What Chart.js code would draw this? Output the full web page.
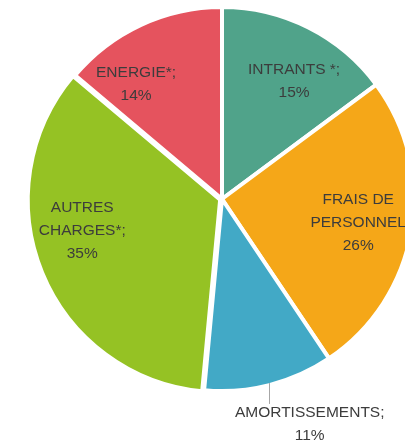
<!DOCTYPE html>
<html>
<head>
<meta charset="utf-8">
<script src="https://cdn.jsdelivr.net/npm/chart.js@4"></script>
<style>
    html, body { margin: 0; padding: 0; background: #ffffff; overflow: hidden; }
    #wrap { position: absolute; left: 0; top: 0; }
</style>
</head>
<body>
<div id="wrap"><canvas id="pieChart" width="444" height="441"></canvas></div>
<script>
// categories, clockwise from 12 o'clock
const categories = [
    ['INTRANTS *;'],
    ['FRAIS DE', 'PERSONNEL'],
    ['AMORTISSEMENTS;'],
    ['AUTRES', 'CHARGES*;'],
    ['ENERGIE*;']
];
const percentValues = [15, 26, 11, 35, 14];
const sliceColors = ['#50a38a', '#f5a718', '#42a9c6', '#95c224', '#e5535e'];
const sliceOffsets = [0, 0, 0, 8, 0];

// label placement: angle shift from slice middle (deg), distance in radii
const labelShift = [4.7, 0.1, -7.0, 9.6, -11.8];
const labelDist = [0.72, 0.72, 1.26, 0.746, 0.748];
const outsideLabel = [false, false, true, false, false];

const lineHeight = 23;

const pieLabels = {
    id: 'pieLabels',
    afterDatasetsDraw(chart) {
        const ctx = chart.ctx;
        const meta = chart.getDatasetMeta(0);
        ctx.save();
        ctx.font = '15.5px "Liberation Sans"';
        ctx.fillStyle = '#3c3c3c';
        ctx.textAlign = 'center';
        ctx.textBaseline = 'middle';
        meta.data.forEach(function(arc, i) {
            const p = arc.getProps(['x', 'y', 'startAngle', 'endAngle', 'outerRadius'], true);
            const mid = (p.startAngle + p.endAngle) / 2;
            const a = mid + labelShift[i] * Math.PI / 180;
            const d = p.outerRadius * labelDist[i];
            const lx = p.x + Math.cos(a) * d;
            const ly = p.y + Math.sin(a) * d;
            const lines = categories[i].concat([percentValues[i] + '%']);
            const top = ly - (lines.length - 1) * lineHeight / 2;
            if (outsideLabel[i]) {
                const ex = p.x + Math.cos(mid) * p.outerRadius;
                const ey = p.y + Math.sin(mid) * p.outerRadius;
                ctx.beginPath();
                ctx.strokeStyle = '#a6a6a6';
                ctx.lineWidth = 1;
                ctx.moveTo(Math.round(ex) + 0.5, ey - 2);
                ctx.lineTo(Math.round(ex) + 0.5, top - 9);
                ctx.stroke();
            }
            lines.forEach(function(t, k) {
                ctx.fillText(t, lx, top + k * lineHeight);
            });
        });
        ctx.restore();
    }
};

const ctxPie = document.getElementById('pieChart').getContext('2d');

const pieChart = new Chart(ctxPie, {
    type: 'pie',
    data: {
        labels: categories.map(function(c) { return c.join(' '); }),
        datasets: [{
            data: percentValues,
            backgroundColor: sliceColors,
            borderColor: '#ffffff',
            borderWidth: 4,
            offset: sliceOffsets,
            radius: 192
        }]
    },
    options: {
        responsive: false,
        animation: false,
        layout: {
            padding: { top: 0, left: 0, right: 0, bottom: 43 }
        },
        plugins: {
            legend: { display: false },
            tooltip: { enabled: false }
        }
    },
    plugins: [pieLabels]
});
</script>
</body>
</html>
